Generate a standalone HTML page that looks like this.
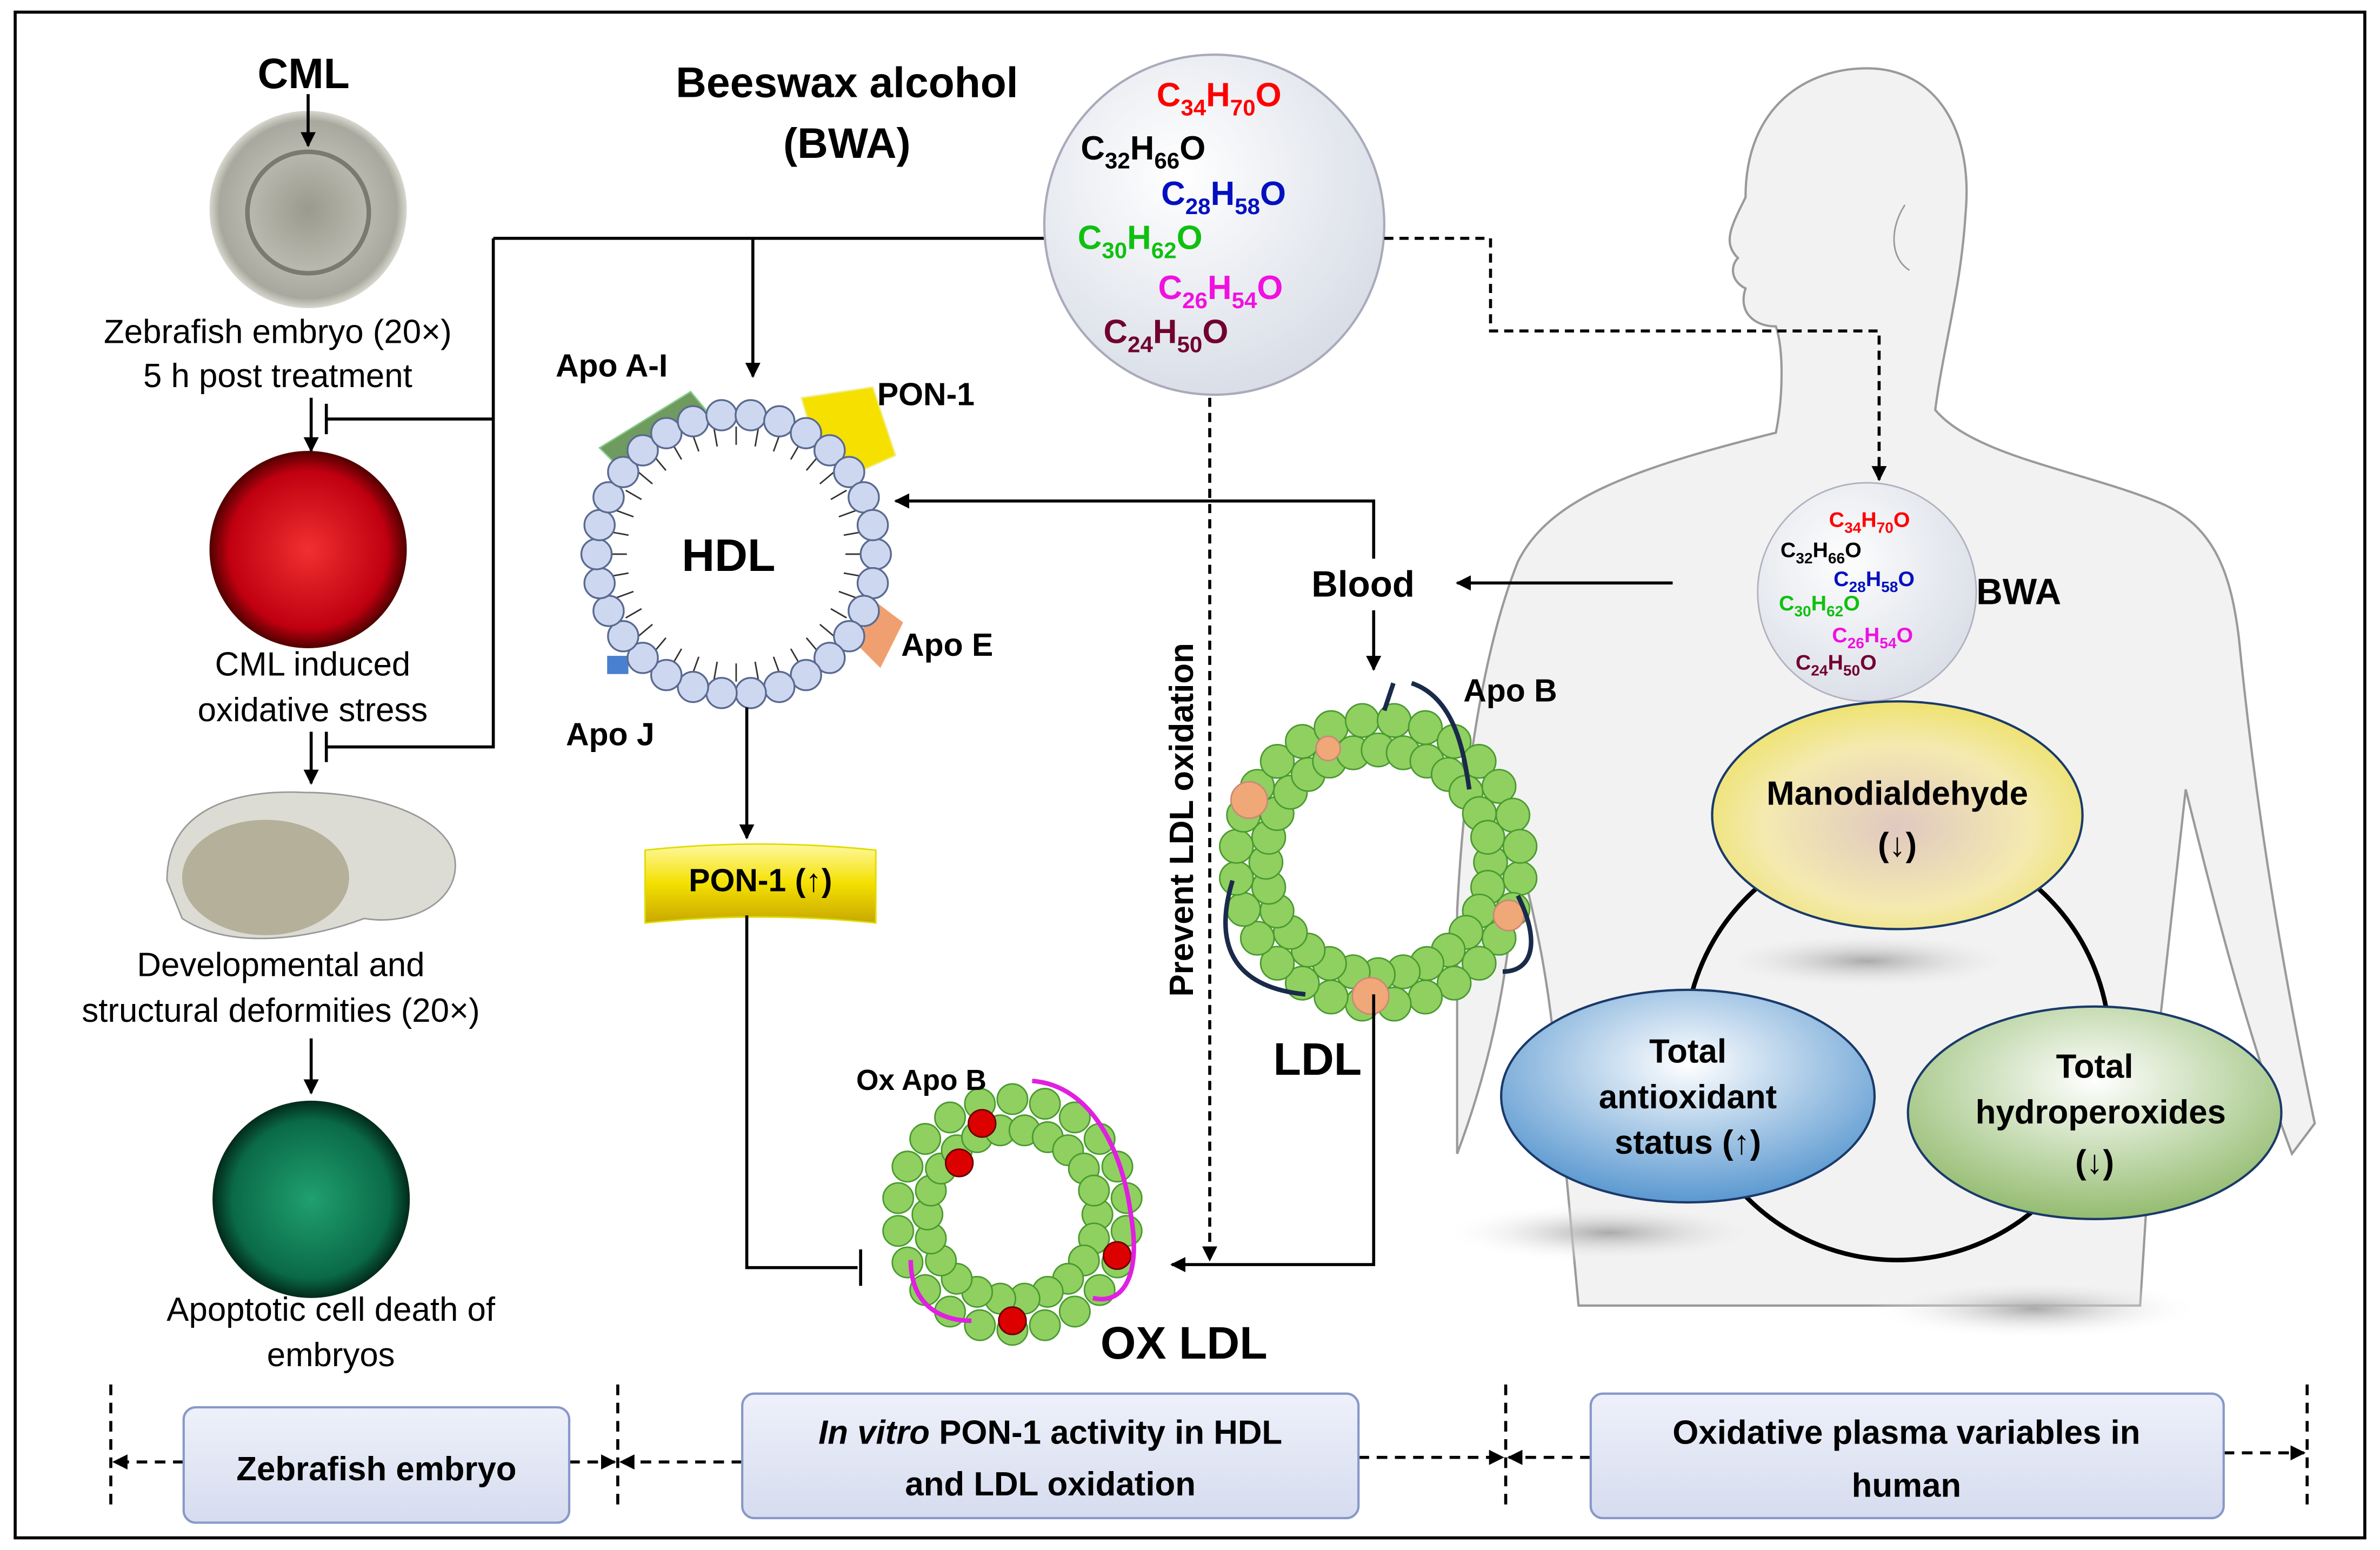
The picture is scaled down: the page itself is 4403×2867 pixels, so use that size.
<!DOCTYPE html>
<html><head><meta charset="utf-8"><style>
html,body{margin:0;padding:0;background:#fff}
svg{display:block}
text{font-family:"Liberation Sans",Arial,sans-serif}
.b{font-weight:bold}
</style></head><body>
<svg id="s" width="4403" height="2867" viewBox="0 0 1568 1021" xmlns="http://www.w3.org/2000/svg">
<defs>
<marker id="a" viewBox="0 0 10 10" refX="9" refY="5" markerWidth="5" markerHeight="5" orient="auto"><path d="M0,0L10,5L0,10z" fill="#000"/></marker>
<radialGradient id="bw" cx="0.4" cy="0.35" r="0.7"><stop offset="0" stop-color="#fff"/><stop offset="1" stop-color="#d7dce6"/></radialGradient>
<radialGradient id="emb" cx="0.5" cy="0.5" r="0.5"><stop offset="0" stop-color="#9a9a8e"/><stop offset="0.6" stop-color="#b8b8ae"/><stop offset="0.9" stop-color="#a8a89e"/><stop offset="1" stop-color="#d8d8d0"/></radialGradient>
<radialGradient id="red" cx="0.5" cy="0.5" r="0.5"><stop offset="0" stop-color="#f03030"/><stop offset="0.8" stop-color="#c00010"/><stop offset="1" stop-color="#500000"/></radialGradient>
<radialGradient id="grn" cx="0.5" cy="0.5" r="0.5"><stop offset="0" stop-color="#20a070"/><stop offset="0.8" stop-color="#0a6a48"/><stop offset="1" stop-color="#022a1a"/></radialGradient>
<radialGradient id="yel" cx="0.5" cy="0.55" r="0.6"><stop offset="0" stop-color="#e0c8c0"/><stop offset="0.6" stop-color="#f4eab0"/><stop offset="1" stop-color="#ede060"/></radialGradient>
<radialGradient id="blu" cx="0.5" cy="0.35" r="0.65"><stop offset="0" stop-color="#fff"/><stop offset="1" stop-color="#5a98d0"/></radialGradient>
<radialGradient id="gr2" cx="0.5" cy="0.35" r="0.65"><stop offset="0" stop-color="#fff"/><stop offset="1" stop-color="#94bc70"/></radialGradient>
<radialGradient id="sh" cx="0.5" cy="0.5" r="0.5"><stop offset="0" stop-color="#aaa"/><stop offset="1" stop-color="#fff" stop-opacity="0"/></radialGradient>
<linearGradient id="pon" x1="0" y1="0" x2="0" y2="1"><stop offset="0" stop-color="#fff8a0"/><stop offset="0.5" stop-color="#f4e000"/><stop offset="1" stop-color="#c8a800"/></linearGradient>
<linearGradient id="box" x1="0" y1="0" x2="0" y2="1"><stop offset="0" stop-color="#eef1fa"/><stop offset="1" stop-color="#d6dcef"/></linearGradient>
</defs>
<rect x="10" y="8" width="1548" height="1005" fill="#fff" stroke="#000" stroke-width="2"/>

<!-- human silhouette -->
<g fill="#f2f2f2" stroke="#9a9a9a" stroke-width="1.5">
<path d="M1150,130 C1150,70 1190,45 1230,45 C1275,45 1300,85 1295,140 C1292,190 1280,230 1275,270 C1300,300 1370,310 1420,330 C1460,345 1470,380 1475,420 C1485,520 1500,620 1525,740 L1510,760 C1480,680 1460,600 1440,520 L1420,700 L1410,860 L1040,860 L1025,700 C1020,640 1010,600 1000,560 C995,620 990,680 960,760 L960,600 C965,500 980,420 1000,370 C1020,330 1070,310 1170,285 C1175,260 1175,230 1170,215 C1155,215 1145,205 1150,190 C1140,185 1140,175 1145,170 C1135,160 1140,150 1150,130 Z"/>
</g>
<path d="M1255,135 C1245,150 1245,170 1258,178" fill="none" stroke="#999"/>

<!-- Left column -->
<text x="200" y="58" class="b" font-size="28" text-anchor="middle">CML</text>
<circle cx="203" cy="138" r="65" fill="url(#emb)"/>
<circle cx="203" cy="140" r="40" fill="none" stroke="#7a7a70" stroke-width="3"/>
<line x1="203" y1="62" x2="203" y2="96" stroke="#000" stroke-width="2" marker-end="url(#a)"/>
<text x="183" y="226" font-size="22" text-anchor="middle">Zebrafish embryo (20×)</text>
<text x="183" y="255" font-size="22" text-anchor="middle">5 h post treatment</text>
<line x1="205" y1="262" x2="205" y2="297" stroke="#000" stroke-width="2" marker-end="url(#a)"/>
<circle cx="203" cy="362" r="65" fill="url(#red)"/>
<text x="206" y="445" font-size="22" text-anchor="middle">CML induced</text>
<text x="206" y="475" font-size="22" text-anchor="middle">oxidative stress</text>
<line x1="205" y1="482" x2="205" y2="516" stroke="#000" stroke-width="2" marker-end="url(#a)"/>
<path d="M325,157 V492 H215 M215,482 V502 M325,276 H215 M215,266 V286 M325,157 H690" fill="none" stroke="#000" stroke-width="2"/>
<line x1="496" y1="157" x2="496" y2="248" stroke="#000" stroke-width="2" marker-end="url(#a)"/>
<path d="M110,580 C110,530 160,520 200,522 C250,522 300,540 300,570 C300,595 270,610 240,605 C200,620 150,625 120,605 Z" fill="#dcdcd4" stroke="#999"/>
<ellipse cx="175" cy="578" rx="55" ry="38" fill="#b4b09a"/>
<text x="185" y="643" font-size="22" text-anchor="middle">Developmental and</text>
<text x="185" y="673" font-size="22" text-anchor="middle">structural deformities (20×)</text>
<line x1="205" y1="684" x2="205" y2="720" stroke="#000" stroke-width="2" marker-end="url(#a)"/>
<circle cx="205" cy="790" r="65" fill="url(#grn)"/>
<text x="218" y="870" font-size="22" text-anchor="middle">Apoptotic cell death of</text>
<text x="218" y="900" font-size="22" text-anchor="middle">embryos</text>

<!-- BWA -->
<text x="558" y="64" class="b" font-size="28" text-anchor="middle">Beeswax alcohol</text>
<text x="558" y="104" class="b" font-size="28" text-anchor="middle">(BWA)</text>
<circle cx="800" cy="148" r="112" fill="url(#bw)" stroke="#aab" stroke-width="1.5"/>
<g class="b" font-size="22">
<text x="762" y="70" fill="#f00">C<tspan font-size="15" dy="6">34</tspan><tspan dy="-6">H</tspan><tspan font-size="15" dy="6">70</tspan><tspan dy="-6">O</tspan></text>
<text x="712" y="105" fill="#000">C<tspan font-size="15" dy="6">32</tspan><tspan dy="-6">H</tspan><tspan font-size="15" dy="6">66</tspan><tspan dy="-6">O</tspan></text>
<text x="765" y="135" fill="#0010c0">C<tspan font-size="15" dy="6">28</tspan><tspan dy="-6">H</tspan><tspan font-size="15" dy="6">58</tspan><tspan dy="-6">O</tspan></text>
<text x="710" y="164" fill="#10c010">C<tspan font-size="15" dy="6">30</tspan><tspan dy="-6">H</tspan><tspan font-size="15" dy="6">62</tspan><tspan dy="-6">O</tspan></text>
<text x="763" y="197" fill="#f010e0">C<tspan font-size="15" dy="6">26</tspan><tspan dy="-6">H</tspan><tspan font-size="15" dy="6">54</tspan><tspan dy="-6">O</tspan></text>
<text x="727" y="226" fill="#700030">C<tspan font-size="15" dy="6">24</tspan><tspan dy="-6">H</tspan><tspan font-size="15" dy="6">50</tspan><tspan dy="-6">O</tspan></text>
</g>
<path d="M912,157 H982 V218 H1238 V316" fill="none" stroke="#000" stroke-width="2" stroke-dasharray="6,4" marker-end="url(#a)"/>
<line x1="797" y1="262" x2="797" y2="830" stroke="#000" stroke-width="2" stroke-dasharray="6,4" marker-end="url(#a)"/>
<text transform="translate(786,540) rotate(-90)" class="b" font-size="22" text-anchor="middle">Prevent LDL oxidation</text>

<!-- HDL -->
<path d="M395,295 L455,258 L465,270 L410,310 Z" fill="#6f9a60" stroke="#8c8"/>
<path d="M528,262 L575,255 L590,300 L545,320 Z" fill="#f5e000" stroke="#ee8"/>
<path d="M575,395 L595,410 L580,440 L565,425Z" fill="#f0a070"/>
<rect x="400" y="432" width="14" height="12" fill="#4a80d0"/>
<circle cx="485" cy="365" r="88" fill="#fff"/>
<g id="hdl"></g>
<text x="480" y="376" class="b" font-size="30" text-anchor="middle">HDL</text>
<text x="403" y="248" class="b" font-size="21" text-anchor="middle">Apo A-I</text>
<text x="610" y="267" class="b" font-size="21" text-anchor="middle">PON-1</text>
<text x="624" y="432" class="b" font-size="21" text-anchor="middle">Apo E</text>
<text x="402" y="491" class="b" font-size="21" text-anchor="middle">Apo J</text>
<line x1="492" y1="466" x2="492" y2="552" stroke="#000" stroke-width="2" marker-end="url(#a)"/>
<path d="M425,560 Q500,552 577,560 V608 Q500,600 425,608 Z" fill="url(#pon)" stroke="#dd0"/>
<text x="501" y="587" class="b" font-size="21" text-anchor="middle">PON-1 (↑)</text>
<path d="M492,603 V835 H565 M567,823 V847" fill="none" stroke="#000" stroke-width="2"/>

<!-- Blood / LDL -->
<text x="898" y="393" class="b" font-size="24" text-anchor="middle">Blood</text>
<line x1="1102" y1="384" x2="960" y2="384" stroke="#000" stroke-width="2" marker-end="url(#a)"/>
<path d="M905,368 V330 H590" fill="none" stroke="#000" stroke-width="2" marker-end="url(#a)"/>
<line x1="905" y1="402" x2="905" y2="441" stroke="#000" stroke-width="2" marker-end="url(#a)"/>
<g id="ldl"></g>
<path d="M912,468 L918,450 M930,450 C960,460 965,500 968,520 M812,580 C800,620 810,650 860,655 M1000,590 C1015,620 1010,640 990,640" fill="none" stroke="#1a2a4a" stroke-width="3"/>
<text x="995" y="462" class="b" font-size="21" text-anchor="middle">Apo B</text>
<text x="868" y="708" class="b" font-size="30" text-anchor="middle">LDL</text>
<path d="M905,655 V833 H772" fill="none" stroke="#000" stroke-width="2" marker-end="url(#a)"/>
<g id="ox"></g>
<text x="607" y="718" class="b" font-size="19" text-anchor="middle">Ox Apo B</text>
<text x="780" y="895" class="b" font-size="30" text-anchor="middle">OX LDL</text>

<!-- right -->
<ellipse cx="1230" cy="633" rx="110" ry="20" fill="url(#sh)"/>
<ellipse cx="1060" cy="812" rx="110" ry="20" fill="url(#sh)"/>
<ellipse cx="1340" cy="862" rx="110" ry="20" fill="url(#sh)"/>
<circle cx="1250" cy="690" r="140" fill="none" stroke="#000" stroke-width="3"/>
<circle cx="1230" cy="390" r="72" fill="url(#bw)" stroke="#aab" opacity="0.9"/>
<g class="b" font-size="14">
<text x="1205" y="347" fill="#f00">C<tspan font-size="10" dy="4">34</tspan><tspan dy="-4">H</tspan><tspan font-size="10" dy="4">70</tspan><tspan dy="-4">O</tspan></text>
<text x="1173" y="367" fill="#000">C<tspan font-size="10" dy="4">32</tspan><tspan dy="-4">H</tspan><tspan font-size="10" dy="4">66</tspan><tspan dy="-4">O</tspan></text>
<text x="1208" y="386" fill="#0010c0">C<tspan font-size="10" dy="4">28</tspan><tspan dy="-4">H</tspan><tspan font-size="10" dy="4">58</tspan><tspan dy="-4">O</tspan></text>
<text x="1172" y="402" fill="#10c010">C<tspan font-size="10" dy="4">30</tspan><tspan dy="-4">H</tspan><tspan font-size="10" dy="4">62</tspan><tspan dy="-4">O</tspan></text>
<text x="1207" y="423" fill="#f010e0">C<tspan font-size="10" dy="4">26</tspan><tspan dy="-4">H</tspan><tspan font-size="10" dy="4">54</tspan><tspan dy="-4">O</tspan></text>
<text x="1183" y="441" fill="#700030">C<tspan font-size="10" dy="4">24</tspan><tspan dy="-4">H</tspan><tspan font-size="10" dy="4">50</tspan><tspan dy="-4">O</tspan></text>
</g>
<text x="1330" y="398" class="b" font-size="24" text-anchor="middle">BWA</text>
<ellipse cx="1250" cy="537" rx="122" ry="75" fill="url(#yel)" stroke="#1a3a6a" stroke-width="1.5"/>
<text x="1250" y="530" class="b" font-size="22" text-anchor="middle">Manodialdehyde</text>
<text x="1250" y="564" class="b" font-size="22" text-anchor="middle">(↓)</text>
<ellipse cx="1112" cy="722" rx="123" ry="70" fill="url(#blu)" stroke="#1a3a6a" stroke-width="1.5"/>
<text x="1112" y="700" class="b" font-size="22" text-anchor="middle">Total</text>
<text x="1112" y="730" class="b" font-size="22" text-anchor="middle">antioxidant</text>
<text x="1112" y="760" class="b" font-size="22" text-anchor="middle">status (↑)</text>
<ellipse cx="1380" cy="733" rx="123" ry="70" fill="url(#gr2)" stroke="#1a3a6a" stroke-width="1.5"/>
<text x="1380" y="710" class="b" font-size="22" text-anchor="middle">Total</text>
<text x="1384" y="740" class="b" font-size="22" text-anchor="middle">hydroperoxides</text>
<text x="1380" y="773" class="b" font-size="22" text-anchor="middle">(↓)</text>

<!-- bottom -->
<g stroke="#000" stroke-width="2" stroke-dasharray="7,5" fill="none">
<line x1="73" y1="912" x2="73" y2="995"/><line x1="407" y1="912" x2="407" y2="995"/>
<line x1="992" y1="912" x2="992" y2="995"/><line x1="1520" y1="912" x2="1520" y2="995"/>
<line x1="121" y1="963" x2="75" y2="963" marker-end="url(#a)"/>
<line x1="375" y1="963" x2="405" y2="963" marker-end="url(#a)"/>
<line x1="489" y1="963" x2="409" y2="963" marker-end="url(#a)"/>
<line x1="895" y1="960" x2="990" y2="960" marker-end="url(#a)"/>
<line x1="1048" y1="960" x2="994" y2="960" marker-end="url(#a)"/>
<line x1="1465" y1="957" x2="1518" y2="957" marker-end="url(#a)"/>
</g>
<rect x="121" y="927" width="254" height="76" rx="8" fill="url(#box)" stroke="#8898c8" stroke-width="1.5"/>
<text x="248" y="975" class="b" font-size="22" text-anchor="middle">Zebrafish embryo</text>
<rect x="489" y="918" width="406" height="82" rx="8" fill="url(#box)" stroke="#8898c8" stroke-width="1.5"/>
<text x="692" y="951" class="b" font-size="22" text-anchor="middle"><tspan font-style="italic">In vitro</tspan> PON-1 activity in HDL</text>
<text x="692" y="985" class="b" font-size="22" text-anchor="middle">and  LDL oxidation</text>
<rect x="1048" y="918" width="417" height="82" rx="8" fill="url(#box)" stroke="#8898c8" stroke-width="1.5"/>
<text x="1256" y="951" class="b" font-size="22" text-anchor="middle">Oxidative plasma variables in</text>
<text x="1256" y="986" class="b" font-size="22" text-anchor="middle">human</text>
</svg>
<script>
var NS="http://www.w3.org/2000/svg";
function el(p,t,a){var e=document.createElementNS(NS,t);for(var k in a)e.setAttribute(k,a[k]);p.appendChild(e);return e;}
var h=document.getElementById("hdl");
for(var i=0;i<36;i++){var t=i/36*2*Math.PI;
 el(h,"line",{x1:485+72*Math.cos(t),y1:365+72*Math.sin(t),x2:485+84*Math.cos(t),y2:365+84*Math.sin(t),stroke:"#333","stroke-width":1});}
for(var i=0;i<30;i++){var t=i/30*2*Math.PI;
 el(h,"circle",{cx:485+92*Math.cos(t),cy:365+92*Math.sin(t),r:10,fill:"#cdd8f0",stroke:"#5a6a90","stroke-width":1.2});}
function ring(g,cx,cy,r,n,rr){for(var k=0;k<2;k++)for(var i=0;i<n;i++){var t=(i+k*0.5)/n*2*Math.PI,R=r+(k?14:-6);
 el(g,"circle",{cx:cx+R*Math.cos(t),cy:cy+R*Math.sin(t),r:rr,fill:"#8fd060",stroke:"#4a9a30","stroke-width":1});}}
var l=document.getElementById("ldl");ring(l,908,568,80,28,11);
[[875,493,8],[823,527,12],[994,603,10],[903,656,12]].forEach(function(c){el(l,"circle",{cx:c[0],cy:c[1],r:c[2],fill:"#f0a878",stroke:"#c87"});});
var o=document.getElementById("ox");ring(o,667,800,62,22,10);
[[647,740],[632,766],[736,827],[667,870]].forEach(function(c){el(o,"circle",{cx:c[0],cy:c[1],r:9,fill:"#d00",stroke:"#600"});});
el(o,"path",{d:"M680,712 C720,715 740,760 745,800 C752,840 740,860 720,855 M600,830 C600,860 620,870 640,870",fill:"none",stroke:"#e020e0","stroke-width":3});
</script>
</body></html>
